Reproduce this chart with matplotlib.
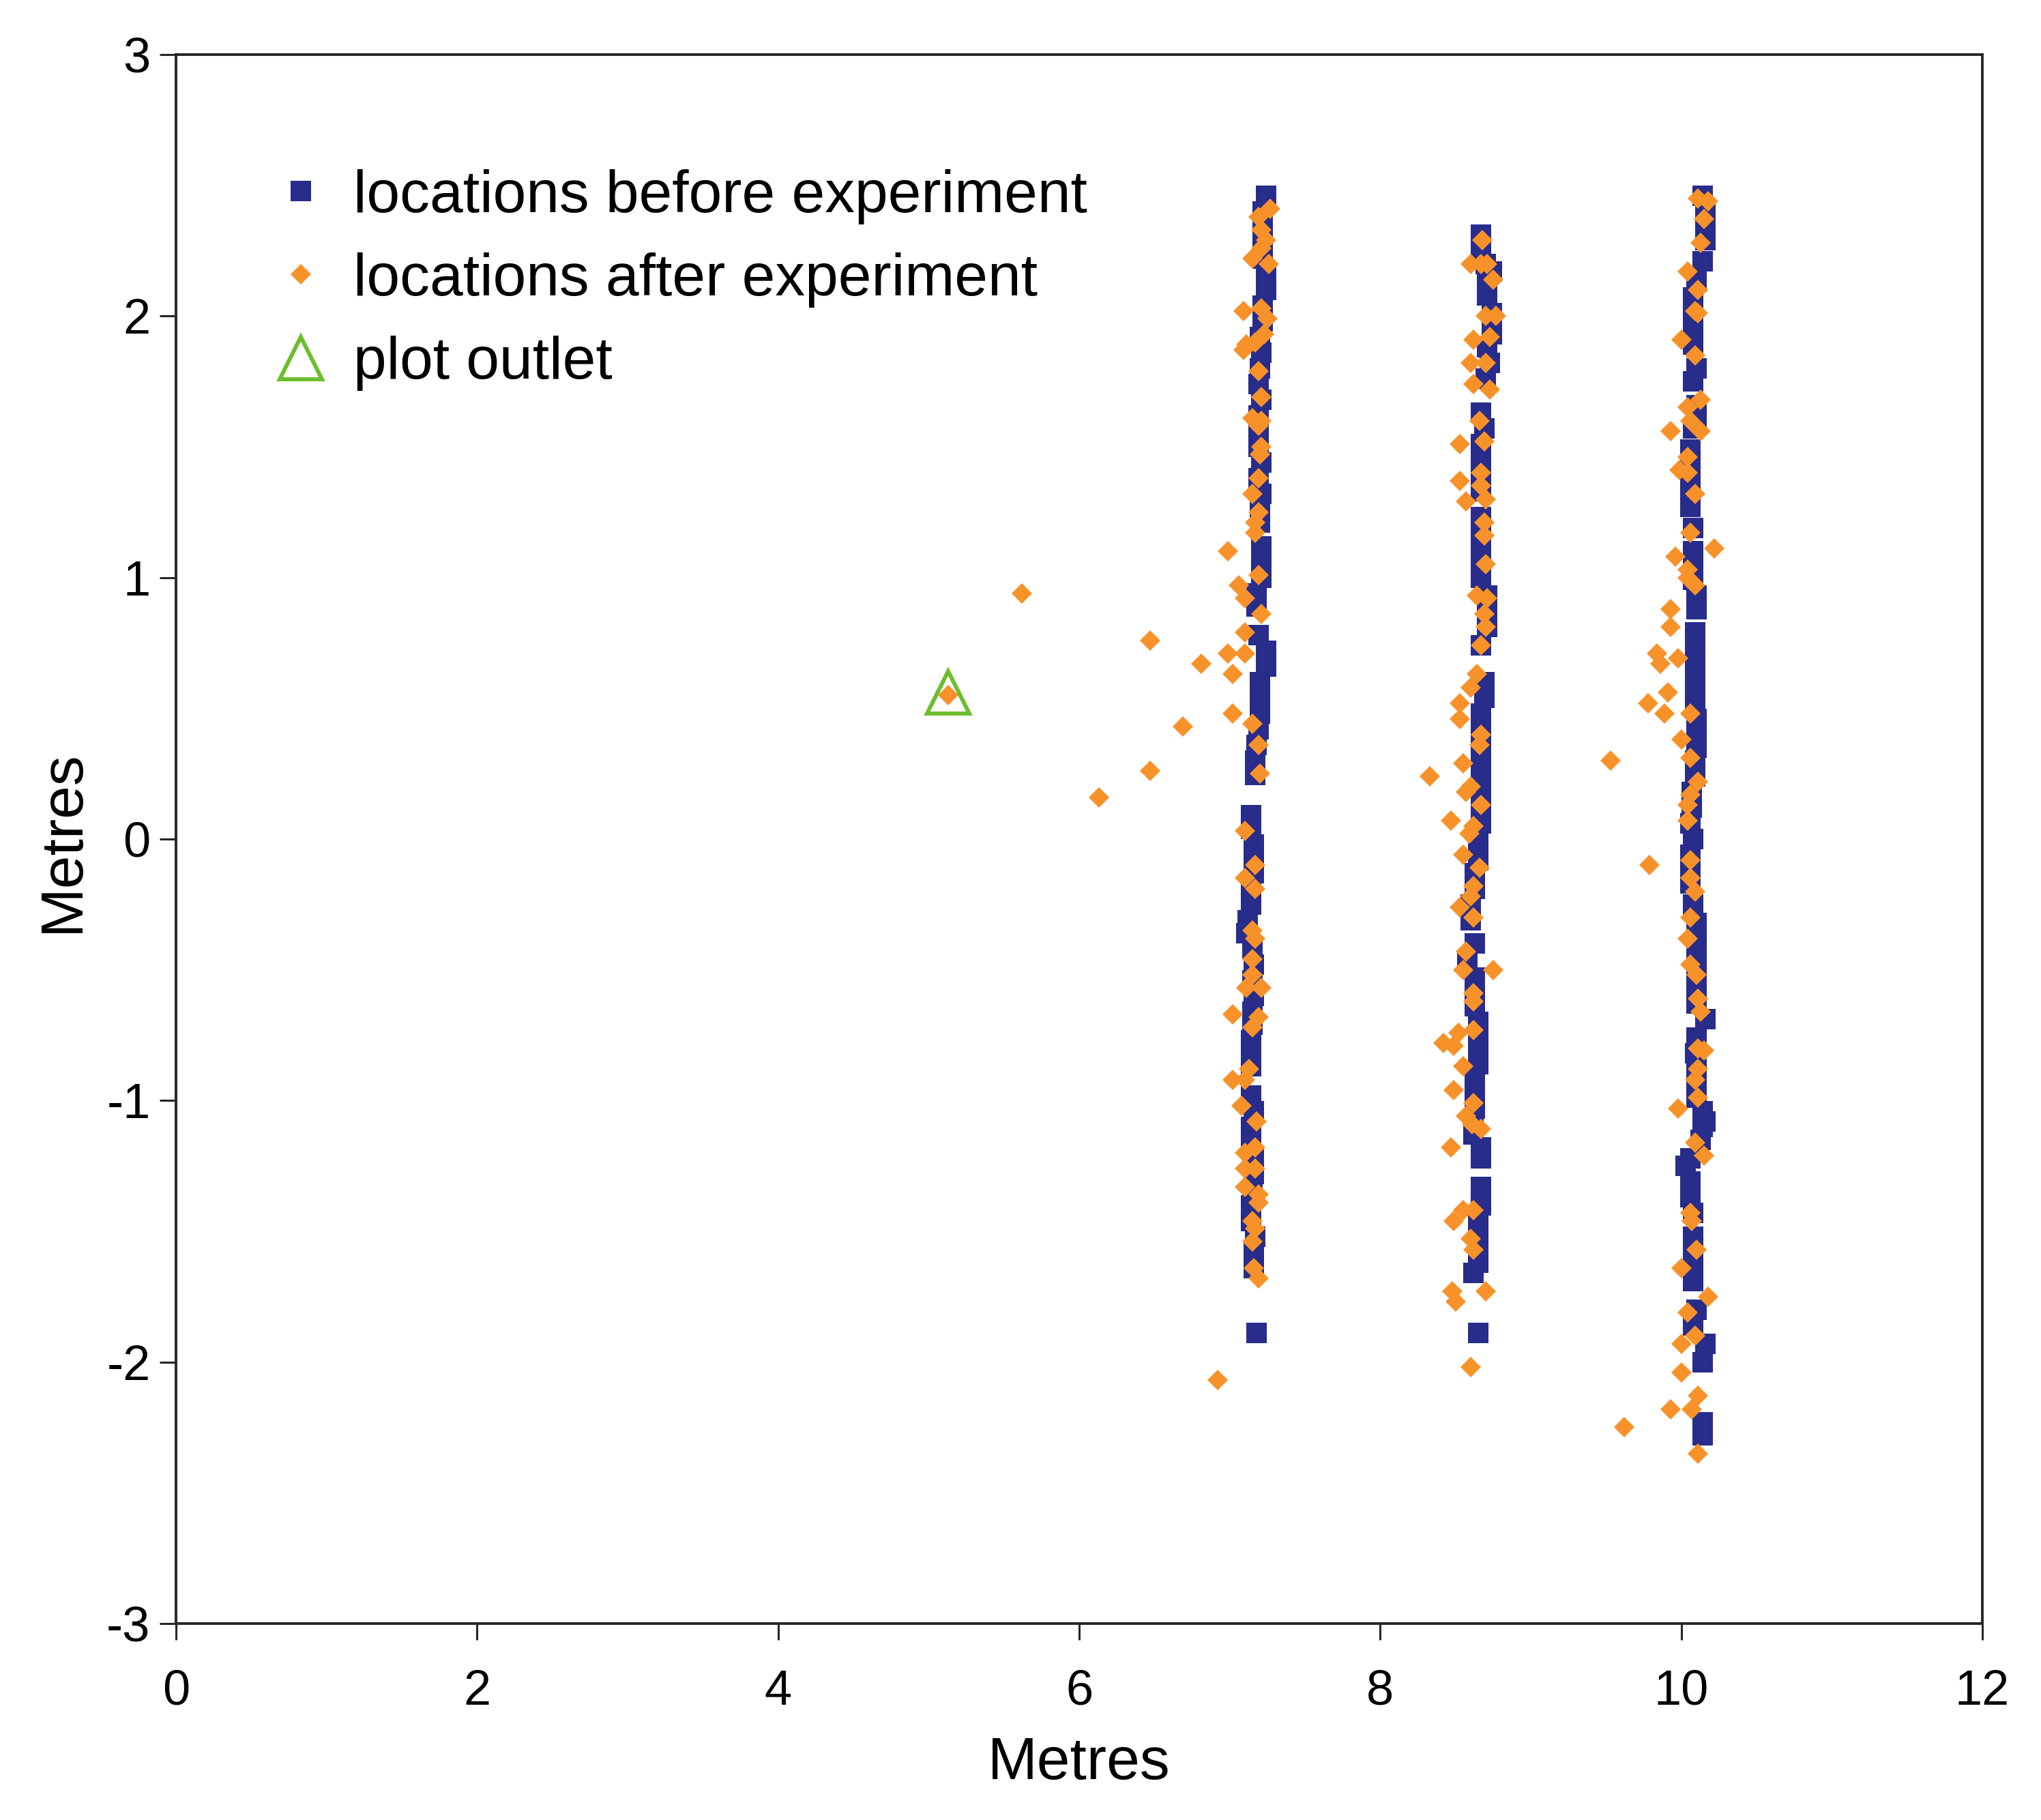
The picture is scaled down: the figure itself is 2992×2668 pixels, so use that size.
import numpy as np
import matplotlib
matplotlib.use("Agg")
import matplotlib.pyplot as plt

# positions (x, y) in metres
before_col1 = [(7.24, 2.46), (7.22, 2.40), (7.22, 2.34), (7.22, 2.28), (7.22, 2.22), (7.24, 2.16),
               (7.24, 2.10), (7.22, 2.04), (7.22, 1.98), (7.20, 1.92), (7.21, 1.86), (7.20, 1.80),
               (7.19, 1.74), (7.21, 1.68), (7.19, 1.62), (7.19, 1.56), (7.19, 1.50), (7.21, 1.44),
               (7.19, 1.38), (7.21, 1.32), (7.20, 1.26), (7.20, 1.21), (7.21, 1.12), (7.21, 1.06),
               (7.21, 1.00), (7.18, 0.94), (7.18, 0.89), (7.19, 0.78), (7.24, 0.72), (7.24, 0.66),
               (7.20, 0.60), (7.20, 0.54), (7.20, 0.48), (7.19, 0.42), (7.18, 0.36), (7.17, 0.30),
               (7.17, 0.245), (7.14, 0.09), (7.14, 0.04), (7.16, -0.02), (7.16, -0.08), (7.16, -0.13),
               (7.14, -0.19), (7.14, -0.25), (7.12, -0.31), (7.11, -0.36), (7.15, -0.42), (7.16, -0.48),
               (7.15, -0.54), (7.16, -0.60), (7.15, -0.66), (7.15, -0.71), (7.14, -0.77), (7.14, -0.83),
               (7.14, -0.87), (7.14, -0.98), (7.16, -1.04), (7.14, -1.10), (7.14, -1.16), (7.16, -1.22),
               (7.16, -1.28), (7.15, -1.34), (7.14, -1.40), (7.14, -1.46), (7.17, -1.52), (7.16, -1.58),
               (7.16, -1.64), (7.18, -1.89)]

before_col2 = [(8.67, 2.31), (8.67, 2.25), (8.70, 2.20), (8.74, 2.17), (8.71, 2.12), (8.71, 2.08),
               (8.74, 2.01), (8.74, 1.96), (8.74, 1.93), (8.71, 1.88), (8.73, 1.82), (8.70, 1.76),
               (8.67, 1.63), (8.69, 1.57), (8.67, 1.51), (8.67, 1.45), (8.67, 1.39), (8.67, 1.33),
               (8.67, 1.23), (8.67, 1.17), (8.67, 1.11), (8.67, 1.05), (8.67, 1.00), (8.71, 0.93),
               (8.71, 0.87), (8.71, 0.81), (8.67, 0.74), (8.69, 0.60), (8.69, 0.54), (8.67, 0.48),
               (8.67, 0.42), (8.67, 0.36), (8.67, 0.30), (8.67, 0.24), (8.67, 0.18), (8.67, 0.12),
               (8.67, 0.06), (8.65, 0.02), (8.65, -0.03), (8.65, -0.08), (8.63, -0.13), (8.63, -0.19),
               (8.60, -0.25), (8.60, -0.31), (8.63, -0.40), (8.58, -0.47), (8.63, -0.53), (8.63, -0.59),
               (8.63, -0.64), (8.65, -0.70), (8.65, -0.76), (8.65, -0.82), (8.65, -0.86), (8.63, -0.92),
               (8.63, -0.98), (8.63, -1.03), (8.62, -1.08), (8.62, -1.13), (8.67, -1.18), (8.67, -1.22),
               (8.67, -1.33), (8.67, -1.40), (8.65, -1.46), (8.65, -1.52), (8.65, -1.58), (8.65, -1.62),
               (8.62, -1.66), (8.65, -1.89)]

before_col3 = [(10.14, 2.46), (10.16, 2.40), (10.16, 2.34), (10.16, 2.29), (10.14, 2.21), (10.10, 2.13),
               (10.08, 2.07), (10.08, 2.01), (10.08, 1.95), (10.08, 1.89), (10.10, 1.80), (10.08, 1.75),
               (10.10, 1.66), (10.10, 1.61), (10.08, 1.57), (10.06, 1.49), (10.06, 1.43), (10.06, 1.37),
               (10.06, 1.31), (10.06, 1.27), (10.08, 1.19), (10.08, 1.10), (10.08, 1.04), (10.08, 0.99),
               (10.10, 0.93), (10.10, 0.88), (10.09, 0.79), (10.09, 0.73), (10.09, 0.67), (10.09, 0.61),
               (10.09, 0.55), (10.09, 0.50), (10.10, 0.46), (10.10, 0.40), (10.10, 0.35), (10.09, 0.30),
               (10.09, 0.24), (10.07, 0.18), (10.07, 0.12), (10.06, 0.06), (10.08, 0.00), (10.06, -0.06),
               (10.06, -0.12), (10.06, -0.17), (10.08, -0.25), (10.10, -0.32), (10.10, -0.39), (10.10, -0.45),
               (10.10, -0.51), (10.10, -0.57), (10.10, -0.63), (10.16, -0.69), (10.10, -0.76), (10.09, -0.82),
               (10.10, -0.88), (10.10, -0.94), (10.10, -0.99), (10.14, -1.04), (10.16, -1.08), (10.14, -1.10),
               (10.13, -1.15), (10.06, -1.22), (10.03, -1.25), (10.06, -1.31), (10.06, -1.37), (10.08, -1.43),
               (10.08, -1.52), (10.08, -1.58), (10.08, -1.64), (10.08, -1.69), (10.10, -1.80), (10.08, -1.86),
               (10.16, -1.93), (10.14, -2.00), (10.14, -2.23), (10.14, -2.28)]

after_col1 = [(7.27, 2.41), (7.19, 2.38), (7.21, 2.33), (7.24, 2.29), (7.21, 2.26), (7.15, 2.22),
              (7.26, 2.20), (7.09, 2.02), (7.21, 2.03), (7.25, 1.99), (7.23, 1.93), (7.11, 1.89),
              (7.09, 1.87), (7.17, 1.90), (7.19, 1.79), (7.21, 1.69), (7.15, 1.61), (7.21, 1.60),
              (7.19, 1.58), (7.21, 1.50), (7.20, 1.47), (7.19, 1.38), (7.15, 1.32), (7.19, 1.25),
              (7.17, 1.21), (7.17, 1.17), (6.99, 1.10), (7.19, 1.01), (7.06, 0.97), (7.10, 0.92),
              (7.21, 0.86), (7.10, 0.79), (6.99, 0.71), (7.10, 0.71), (6.81, 0.67), (7.02, 0.63),
              (7.02, 0.48), (7.15, 0.44), (7.19, 0.36), (7.20, 0.25), (7.10, 0.03), (7.17, -0.10),
              (7.10, -0.15), (7.17, -0.19), (7.15, -0.35), (7.17, -0.38), (7.15, -0.46), (7.15, -0.52),
              (7.11, -0.57), (7.21, -0.57), (7.02, -0.67), (7.19, -0.68), (7.15, -0.72), (7.13, -0.88),
              (7.02, -0.92), (7.10, -0.92), (7.08, -1.02), (7.18, -1.08), (7.17, -1.18), (7.10, -1.20),
              (7.10, -1.26), (7.17, -1.26), (7.10, -1.33), (7.19, -1.36), (7.19, -1.39), (7.15, -1.46),
              (7.17, -1.49), (7.15, -1.54), (7.16, -1.64), (7.19, -1.68), (6.92, -2.07)]

after_col2 = [(8.68, 2.29), (8.60, 2.20), (8.67, 2.20), (8.71, 2.20), (8.75, 2.14), (8.70, 2.00),
              (8.77, 2.00), (8.62, 1.91), (8.73, 1.92), (8.60, 1.82), (8.70, 1.82), (8.62, 1.74),
              (8.73, 1.72), (8.66, 1.60), (8.69, 1.52), (8.53, 1.51), (8.53, 1.37), (8.67, 1.40),
              (8.67, 1.35), (8.57, 1.29), (8.70, 1.30), (8.69, 1.21), (8.69, 1.16), (8.70, 1.05),
              (8.64, 0.93), (8.71, 0.92), (8.69, 0.86), (8.70, 0.81), (8.67, 0.74), (8.64, 0.63),
              (8.60, 0.58), (8.53, 0.52), (8.53, 0.46), (8.67, 0.40), (8.66, 0.36), (8.55, 0.29),
              (8.33, 0.24), (8.57, 0.18), (8.60, 0.20), (8.67, 0.13), (8.47, 0.07), (8.62, 0.05),
              (8.59, 0.02), (8.55, -0.06), (8.66, -0.11), (8.62, -0.18), (8.60, -0.22), (8.53, -0.26),
              (8.62, -0.30), (8.57, -0.43), (8.55, -0.50), (8.75, -0.50), (8.62, -0.59), (8.62, -0.62),
              (8.62, -0.73), (8.52, -0.74), (8.42, -0.78), (8.49, -0.79), (8.55, -0.87), (8.49, -0.96),
              (8.62, -1.01), (8.57, -1.06), (8.61, -1.09), (8.67, -1.11), (8.47, -1.18), (8.62, -1.42),
              (8.55, -1.42), (8.49, -1.46), (8.60, -1.53), (8.62, -1.57), (8.48, -1.73), (8.50, -1.77),
              (8.70, -1.73), (8.60, -2.02)]

after_col3 = [(10.11, 2.45), (10.18, 2.44), (10.15, 2.37), (10.13, 2.28), (10.04, 2.17), (10.11, 2.10),
              (10.09, 2.02), (10.11, 2.01), (10.00, 1.91), (10.09, 1.85), (10.13, 1.68), (10.04, 1.65),
              (10.06, 1.60), (10.13, 1.56), (9.93, 1.56), (10.04, 1.46), (9.99, 1.41), (10.04, 1.40),
              (10.09, 1.32), (10.06, 1.17), (10.22, 1.11), (9.96, 1.08), (10.04, 1.03), (10.04, 1.00),
              (10.09, 0.97), (9.93, 0.88), (9.93, 0.81), (9.84, 0.71), (9.86, 0.67), (9.98, 0.69),
              (9.91, 0.56), (9.78, 0.52), (9.89, 0.48), (10.06, 0.48), (10.00, 0.38), (10.06, 0.31),
              (9.53, 0.30), (10.11, 0.22), (10.06, 0.17), (10.04, 0.13), (10.04, 0.07), (9.79, -0.10),
              (10.06, -0.08), (10.06, -0.15), (10.09, -0.20), (10.06, -0.30), (10.04, -0.38), (10.06, -0.48),
              (10.10, -0.52), (10.11, -0.61), (10.13, -0.66), (10.11, -0.80), (10.15, -0.81), (10.11, -0.88),
              (10.09, -0.92), (10.11, -0.99), (9.98, -1.03), (10.09, -1.16), (10.15, -1.21), (10.06, -1.43),
              (10.07, -1.46), (10.10, -1.57), (10.00, -1.64), (10.18, -1.75), (10.04, -1.81), (10.09, -1.90),
              (10.00, -1.93), (10.00, -2.04), (10.11, -2.13), (9.93, -2.18), (10.07, -2.18), (9.62, -2.25),
              (10.11, -2.35)]

after_stray = [(5.13, 0.55), (5.62, 0.94), (6.47, 0.76), (6.69, 0.43), (6.47, 0.26), (6.13, 0.16)]

outlet = [(5.13, 0.56)]

x_ticks = [0, 2, 4, 6, 8, 10, 12]
y_ticks = [-3, -2, -1, 0, 1, 2, 3]
y_tick_labels = ['-3', '-2', '-1', '0', '1', '2', '3']

blue = '#282C8A'
orange = '#F7922A'
green = '#6DBE2D'

plt.rcParams['font.family'] = ['Liberation Sans', 'DejaVu Sans']

before = np.array(before_col1 + before_col2 + before_col3)
after = np.array(after_col1 + after_col2 + after_col3 + after_stray)
outlet = np.array(outlet)

fig = plt.figure(figsize=(29.92, 26.68), dpi=100)
ax = fig.add_axes([0.08623, 0.10795, 0.88503, 0.86207])

ax.plot(before[:, 0], before[:, 1], linestyle='none', marker='s', ms=21.5,
        mew=0, color=blue, label='locations before experiment')
ax.plot(after[:, 0], after[:, 1], linestyle='none', marker='D', ms=15,
        mew=0, color=orange, label='locations after experiment')
ax.plot(outlet[:, 0], outlet[:, 1], linestyle='none', marker='^', ms=44,
        mew=4.3, mfc='none', mec=green, label='plot outlet')

ax.set_xlim(0, 12)
ax.set_ylim(-3, 3)
ax.set_xticks(x_ticks)
ax.set_yticks(y_ticks)
ax.set_yticklabels(y_tick_labels)

for s in ax.spines.values():
    s.set_linewidth(2.8)
    s.set_color('#262626')
ax.tick_params(axis='both', direction='out', length=17, width=2.2,
               color='#262626', labelsize=52)
ax.tick_params(axis='x', pad=31)
ax.tick_params(axis='y', pad=10)

ax.set_xlabel('Metres', fontsize=63)
ax.set_ylabel('Metres', fontsize=63)
ax.xaxis.set_label_coords(0.5, -0.0895)
ax.xaxis.label.set_verticalalignment('center')
ax.yaxis.set_label_coords(-0.0627, 0.4985)
ax.yaxis.label.set_verticalalignment('center')

ax.legend(loc='upper left', bbox_to_anchor=(0.0526, 0.927), frameon=False,
          fontsize=63, borderpad=0, borderaxespad=0, handlelength=1.0,
          handletextpad=0.38, labelspacing=0.47, numpoints=1)

fig.savefig('out.png', dpi=100)
